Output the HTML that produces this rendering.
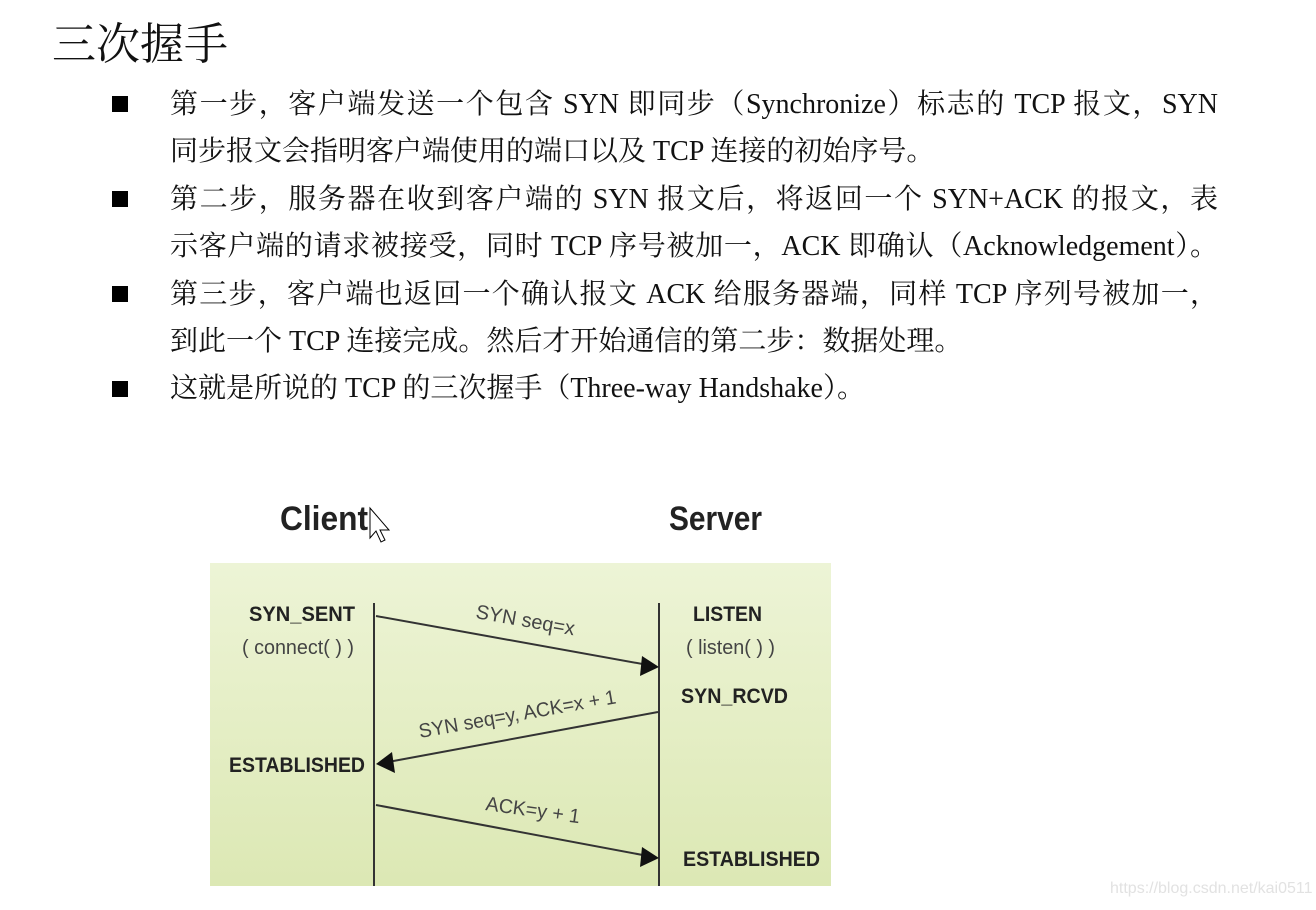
<!DOCTYPE html>
<html><head><meta charset="utf-8"><style>
body{margin:0;width:1316px;height:910px;background:#fff;position:relative;overflow:hidden;font-family:"Liberation Serif","Noto Serif CJK SC",serif;color:#111}
.t{position:absolute;left:52px;top:8px;font-size:44px;font-family:"Liberation Serif","Noto Serif CJK SC",serif;font-weight:400;color:#111}
.l{position:absolute;left:170px;width:1048px;font-size:28px;line-height:34px;white-space:nowrap;font-family:"Liberation Serif","Noto Serif CJK SC",serif}
.j{text-align:justify;text-align-last:justify}
.b{position:absolute;left:112px;width:16px;height:16px;background:#000}
.wm{position:absolute;left:1110px;top:880px;font-family:"Liberation Sans",sans-serif;font-size:16px;color:#e2e2e2;white-space:nowrap}
</style></head><body>
<div class="t">三次握手</div>
<div class="b" style="top:96px"></div>
<div class="b" style="top:191px"></div>
<div class="b" style="top:286px"></div>
<div class="b" style="top:381px"></div>
<div class="l j" style="top:88px">第一步，客户端发送一个包含 SYN 即同步（Synchronize）标志的 TCP 报文，SYN</div>
<div class="l" style="top:135px">同步报文会指明客户端使用的端口以及 TCP 连接的初始序号。</div>
<div class="l j" style="top:183px">第二步，服务器在收到客户端的 SYN 报文后，将返回一个 SYN+ACK 的报文，表</div>
<div class="l j" style="top:230px">示客户端的请求被接受，同时 TCP 序号被加一，ACK 即确认（Acknowledgement）。</div>
<div class="l j" style="top:278px">第三步，客户端也返回一个确认报文 ACK 给服务器端，同样 TCP 序列号被加一，</div>
<div class="l" style="top:325px">到此一个 TCP 连接完成。然后才开始通信的第二步：数据处理。</div>
<div class="l" style="top:372px">这就是所说的 TCP 的三次握手（Three-way Handshake）。</div>
<svg style="position:absolute;left:0;top:0" width="1316" height="910">
<defs><linearGradient id="g" x1="0" y1="0" x2="0" y2="1"><stop offset="0" stop-color="#edf4d6"/><stop offset="1" stop-color="#dce8b4"/></linearGradient></defs>
<rect x="210" y="563" width="621" height="323" fill="url(#g)"/>
<g font-family="Liberation Sans, sans-serif" fill="#222">
<text x="280" y="530" font-size="34" font-weight="bold" textLength="88" lengthAdjust="spacingAndGlyphs">Client</text>
<text x="669" y="530" font-size="34" font-weight="bold" textLength="93" lengthAdjust="spacingAndGlyphs">Server</text>
<g font-weight="bold" font-size="21">
<text x="249" y="621" textLength="106" lengthAdjust="spacingAndGlyphs">SYN_SENT</text>
<text x="693" y="621" textLength="69" lengthAdjust="spacingAndGlyphs">LISTEN</text>
<text x="681" y="703" textLength="107" lengthAdjust="spacingAndGlyphs">SYN_RCVD</text>
<text x="229" y="772" textLength="136" lengthAdjust="spacingAndGlyphs">ESTABLISHED</text>
<text x="683" y="866" textLength="137" lengthAdjust="spacingAndGlyphs">ESTABLISHED</text>
</g>
<g font-size="20" fill="#444">
<text x="242" y="654" textLength="112" lengthAdjust="spacingAndGlyphs">( connect( ) )</text>
<text x="686" y="654" textLength="89" lengthAdjust="spacingAndGlyphs">( listen( ) )</text>
<text transform="translate(475,618) rotate(10)" font-size="20" textLength="100" lengthAdjust="spacingAndGlyphs">SYN seq=x</text>
<text transform="translate(420,738) rotate(-10)" font-size="20" textLength="200" lengthAdjust="spacingAndGlyphs">SYN seq=y, ACK=x + 1</text>
<text transform="translate(485,810) rotate(8)" font-size="20" textLength="95" lengthAdjust="spacingAndGlyphs">ACK=y + 1</text>
</g>
</g>
<g stroke="#333" stroke-width="2">
<line x1="374" y1="603" x2="374" y2="886"/>
<line x1="659" y1="603" x2="659" y2="886"/>
<line x1="376" y1="616" x2="648" y2="665"/>
<line x1="658" y1="712" x2="388" y2="762"/>
<line x1="376" y1="805" x2="648" y2="856"/>
</g>
<g fill="#111">
<polygon points="659,667 642,656 640,676"/>
<polygon points="376,764 392,752 395,773"/>
<polygon points="659,858 642,847 640,867"/>
</g>
<path d="M370,508 l0,30 l6,-7 l5,11 l4,-2 l-5,-10 l9,0 z" fill="#fff" stroke="#000" stroke-width="1"/>
</svg>
<div class="wm">https://blog.csdn.net/kai0511</div>
</body></html>
